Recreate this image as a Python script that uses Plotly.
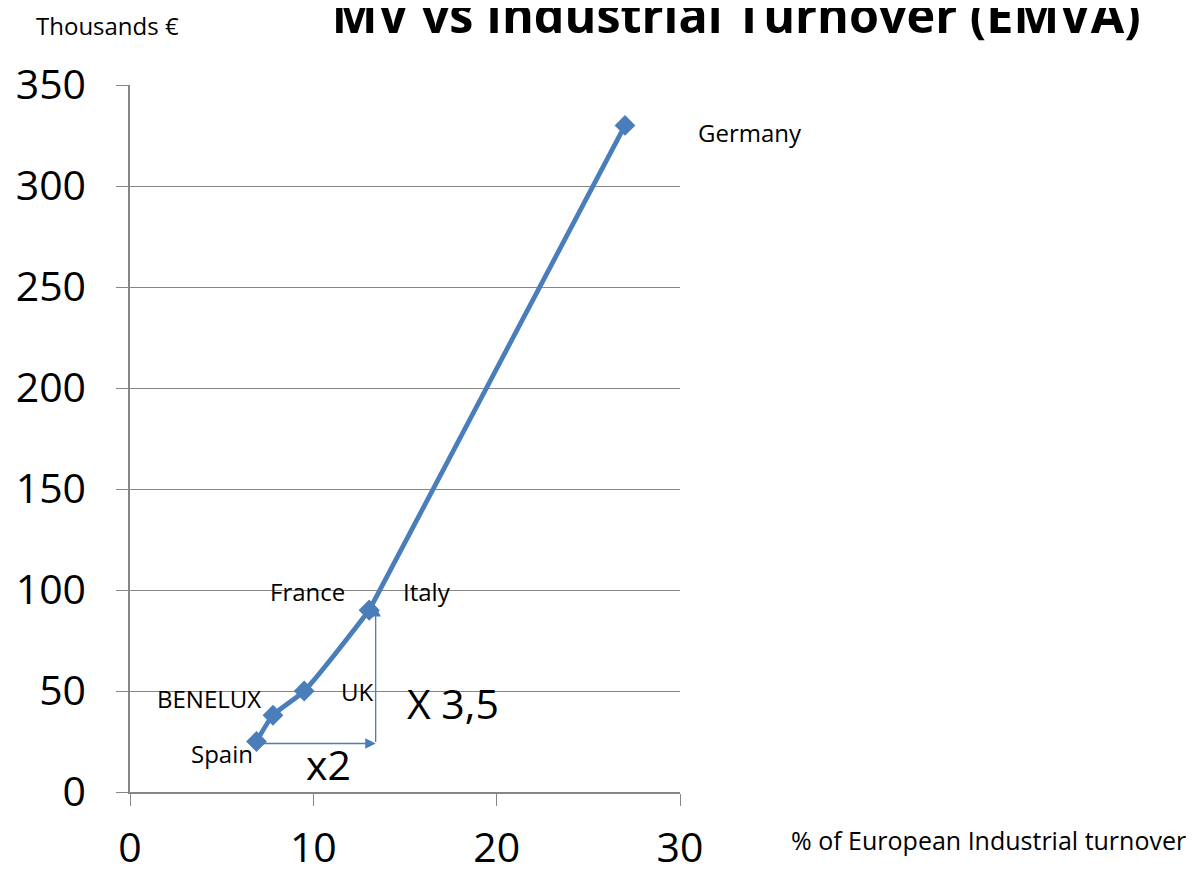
import plotly.graph_objects as go

# Data
countries = ["Spain", "BENELUX", "UK", "France", "Italy", "Germany"]
turnover_pct = [6.9, 7.8, 9.5, 13.05, 13.05, 27.0]
mv_thousands = [25, 38, 50, 90, 90, 330]

# label offsets in pixels (dx, dy) relative to each point
label_shift = {
    "Spain": (-35, -12), "BENELUX": (-64, 17), "UK": (53, 0),
    "France": (-62, 19), "Italy": (58, 19), "Germany": (125, -7),
}

# ratio arrows: start -> end in data units
arrow_x2 = dict(start=(7.0, 24), end=(13.4, 24))
arrow_x35 = dict(start=(13.4, 24), end=(13.4, 92))
ratio_texts = [("x2", 10.8, 14), ("X 3,5", 17.6, 44)]

BLUE = "#4a7ebb"
FONT = "Open Sans"

fig = go.Figure()
fig.add_trace(go.Scatter(
    x=turnover_pct, y=mv_thousands, mode="lines+markers",
    line=dict(color=BLUE, width=4.8, shape="spline", smoothing=0.6),
    marker=dict(symbol="diamond", size=16, color=BLUE),
    hovertext=countries, showlegend=False))

for name, x, y in zip(countries, turnover_pct, mv_thousands):
    dx, dy = label_shift[name]
    fig.add_annotation(x=x, y=y, text=name, showarrow=False, xshift=dx, yshift=dy,
                       font=dict(family=FONT, size=24, color="black"))

for arr in (arrow_x2, arrow_x35):
    fig.add_annotation(x=arr["end"][0], y=arr["end"][1], ax=arr["start"][0], ay=arr["start"][1],
                       xref="x", yref="y", axref="x", ayref="y", text="", showarrow=True,
                       arrowhead=2, arrowsize=1.6, arrowwidth=1.3, arrowcolor=BLUE)

for txt, x, y in ratio_texts:
    fig.add_annotation(x=x, y=y, text=txt, showarrow=False,
                       font=dict(family=FONT, size=41, color="black"))

fig.add_annotation(xref="paper", yref="paper", x=-0.041, y=1.084, text="Thousands €",
                   showarrow=False, xanchor="center", yanchor="middle",
                   font=dict(family=FONT, size=24, color="black"))
fig.add_annotation(xref="paper", yref="paper", x=1.56, y=-0.068,
                   text="% of European Industrial turnover", showarrow=False,
                   xanchor="center", yanchor="middle",
                   font=dict(family=FONT, size=25, color="black"))

# the page body adds an 8px offset, so the figure is a bit smaller than the window
fig.update_layout(
    width=1186, height=865,
    margin=dict(l=122, r=514, t=77, b=81),
    paper_bgcolor="white", plot_bgcolor="white",
    font=dict(family=FONT, color="black"),
    title=dict(text="<b>MV vs Industrial Turnover (EMVA)</b>", x=0.614, xanchor="center",
               y=0.991, yanchor="middle", font=dict(family=FONT, size=48.5, color="black")),
)
fig.update_xaxes(range=[0, 30], tickvals=[0, 10, 20, 30], showgrid=False, zeroline=False,
                 showline=True, linecolor="#868686", linewidth=1.5, automargin=False,
                 ticks="outside", ticklen=12, tickcolor="#868686", tickfont=dict(size=41),
                 ticklabelstandoff=7)
fig.update_yaxes(range=[0, 350], tickvals=[0, 50, 100, 150, 200, 250, 300, 350],
                 showgrid=True, gridcolor="#868686", gridwidth=1.3, zeroline=False,
                 showline=True, linecolor="#868686", linewidth=1.5, automargin=False,
                 ticks="outside", ticklen=12, tickcolor="#868686", tickfont=dict(size=41),
                 ticklabelstandoff=22)

fig.write_html("out.html")
